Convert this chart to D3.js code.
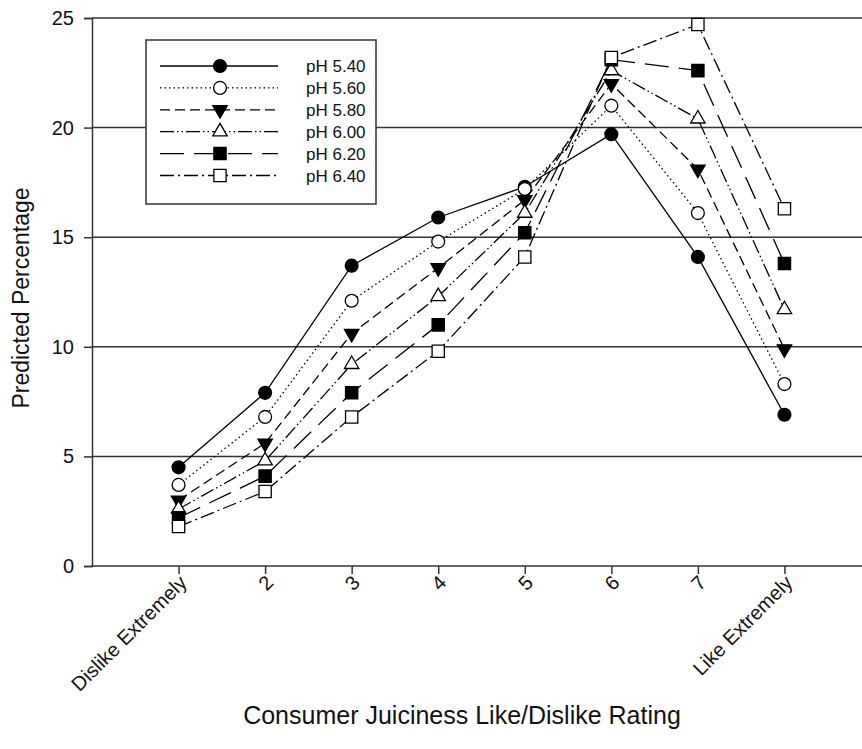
<!DOCTYPE html>
<html lang="en">
<head>
<meta charset="utf-8">
<title>Predicted juiciness rating</title>
<script src="https://cdn.jsdelivr.net/npm/d3@7"></script>
<style>
  body { margin: 0; background: #fff; }
  text { font-family: "Liberation Sans", Arial, sans-serif; fill: #111; }
</style>
</head>
<body>
<script>
// rating categories (x axis)
var categories = [1, 2, 3, 4, 5, 6, 7, 8];
var tickLabels = ["Dislike Extremely", "2", "3", "4", "5", "6", "7", "Like Extremely"];
var yTicks = [0, 5, 10, 15, 20, 25];

// series names and values
var seriesNames = ["pH 5.40", "pH 5.60", "pH 5.80", "pH 6.00", "pH 6.20", "pH 6.40"];
var ph540 = [4.5, 7.9, 13.7, 15.9, 17.3, 19.7, 14.1, 6.9];
var ph560 = [3.7, 6.8, 12.1, 14.8, 17.2, 21.0, 16.1, 8.3];
var ph580 = [3.0, 5.6, 10.6, 13.6, 16.7, 22.0, 18.1, 9.9];
var ph600 = [2.6, 4.8, 9.2, 12.3, 16.1, 22.6, 20.4, 11.7];
var ph620 = [2.2, 4.1, 7.9, 11.0, 15.2, 23.1, 22.6, 13.8];
var ph640 = [1.8, 3.4, 6.8, 9.8, 14.1, 23.2, 24.7, 16.3];

var allSeries = [ph540, ph560, ph580, ph600, ph620, ph640];

// line style / marker per series
var dashes = ["none", "1.5,3", "10,5", "14,3,1.5,3,1.5,3", "24,10", "14,4,2,4"];
var markers = [
  {shape: d3.symbolCircle, fill: "#000"},
  {shape: d3.symbolCircle, fill: "#fff"},
  {shape: "down", fill: "#000"},
  {shape: d3.symbolTriangle, fill: "#fff"},
  {shape: d3.symbolSquare, fill: "#000"},
  {shape: d3.symbolSquare, fill: "#fff"}
];

var w = 862, h = 749;
var svg = d3.select("body").append("svg").attr("width", w).attr("height", h);

var x = d3.scaleLinear().domain([0, 9]).range([92, 871]);
var y = d3.scaleLinear().domain([0, 25]).range([566, 18]);

// horizontal grid lines
svg.append("g").selectAll("line")
  .data(yTicks.filter(function(d) { return d > 0; }))
  .enter().append("line")
  .attr("x1", x(0)).attr("x2", w)
  .attr("y1", function(d) { return y(d); })
  .attr("y2", function(d) { return y(d); })
  .attr("stroke", "#333").attr("stroke-width", 1.5);

// y axis
var yAxis = svg.append("g").attr("transform", "translate(" + x(0) + ",0)")
  .call(d3.axisLeft(y).tickValues(yTicks).tickSize(8).tickPadding(10));
yAxis.select(".domain").attr("stroke", "#333").attr("stroke-width", 1.5);
yAxis.selectAll(".tick line").attr("stroke", "#333").attr("stroke-width", 1.5);
yAxis.selectAll("text").attr("font-size", 20).attr("fill", "#111");

// x axis
var xAxis = svg.append("g").attr("transform", "translate(0," + y(0) + ")")
  .call(d3.axisBottom(x).tickValues(categories).tickSize(8)
    .tickFormat(function(d, i) { return tickLabels[i]; }));
xAxis.select(".domain").attr("d", "M" + x(0) + ",0H" + w)
  .attr("stroke", "#333").attr("stroke-width", 1.5);
xAxis.selectAll(".tick line").attr("stroke", "#333").attr("stroke-width", 1.5);
xAxis.selectAll("text")
  .attr("font-size", 20).attr("fill", "#111")
  .attr("text-anchor", "end")
  .attr("dy", null).attr("y", 0)
  .attr("transform", "translate(9,18) rotate(-45)");

// axis titles
svg.append("text")
  .attr("transform", "translate(29,298) rotate(-90)")
  .attr("text-anchor", "middle").attr("font-size", 23)
  .text("Predicted Percentage");
svg.append("text")
  .attr("x", 462).attr("y", 724)
  .attr("text-anchor", "middle").attr("font-size", 25)
  .text("Consumer Juiciness Like/Dislike Rating");

function markerPath(m) {
  if (m.shape === "down") {
    return d3.symbol().type(d3.symbolTriangle).size(90)();
  }
  if (m.shape === d3.symbolTriangle) return d3.symbol().type(m.shape).size(90)();
  return d3.symbol().type(m.shape).size(m.shape === d3.symbolSquare ? 150 : 130)();
}
function markerTransform(m, px, py) {
  if (m.shape === "down") return "translate(" + px + "," + py + ") rotate(180)";
  return "translate(" + px + "," + py + ")";
}

var line = d3.line()
  .x(function(d, i) { return x(categories[i]); })
  .y(function(d) { return y(d); });

allSeries.forEach(function(vals, s) {
  var g = svg.append("g");
  g.append("path")
    .attr("d", line(vals))
    .attr("fill", "none").attr("stroke", "#000").attr("stroke-width", 1.3)
    .attr("stroke-dasharray", dashes[s]);
  g.selectAll("path.mk")
    .data(vals).enter().append("path")
    .attr("class", "mk")
    .attr("d", markerPath(markers[s]))
    .attr("transform", function(d, i) { return markerTransform(markers[s], x(categories[i]), y(d)); })
    .attr("fill", markers[s].fill).attr("stroke", "#000").attr("stroke-width", 1.3);
});

// legend
var legend = svg.append("g");
legend.append("rect")
  .attr("x", 146).attr("y", 40).attr("width", 230).attr("height", 164)
  .attr("fill", "#fff").attr("stroke", "#333").attr("stroke-width", 1.5);
seriesNames.forEach(function(name, s) {
  var ly = 66 + s * 21.9;
  legend.append("line")
    .attr("x1", 160).attr("x2", 278).attr("y1", ly).attr("y2", ly)
    .attr("stroke", "#000").attr("stroke-width", 1.3)
    .attr("stroke-dasharray", dashes[s]);
  legend.append("path")
    .attr("d", markerPath(markers[s]))
    .attr("transform", markerTransform(markers[s], 220, ly))
    .attr("fill", markers[s].fill).attr("stroke", "#000").attr("stroke-width", 1.3);
  legend.append("text")
    .attr("x", 306).attr("y", ly + 6)
    .attr("font-size", 17)
    .text(name);
});
</script>
</body>
</html>
